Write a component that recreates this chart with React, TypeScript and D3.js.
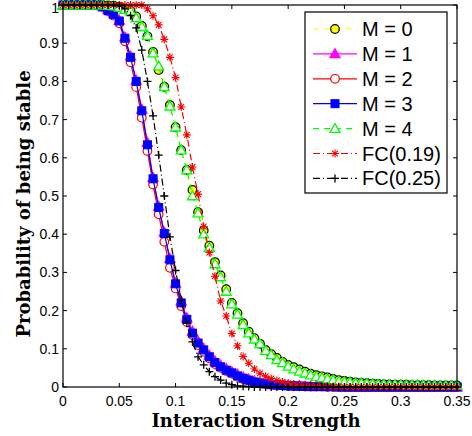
import React from "react";
import * as d3 from "d3";

const xStep = 0.005;

const m0 = [1,1,1,1,1,1,1,1,0.999,0.998,0.995,0.99,0.985,0.97,0.945,0.918,0.877,0.83,0.786,0.738,0.68,0.62,0.568,0.516,0.458,0.41,0.37,0.327,0.292,0.256,0.22,0.193,0.167,0.145,0.128,0.113,0.097,0.086,0.076,0.066,0.058,0.052,0.046,0.04,0.035,0.031,0.028,0.025,0.021,0.018,0.016,0.014,0.012,0.011,0.01,0.009,0.008,0.007,0.007,0.006,0.006,0.006,0.005,0.005,0.005,0.005,0.004,0.004,0.004,0.004,0.004];
const m1 = [1,1,1,1,1,1,1,0.997,0.988,0.978,0.96,0.916,0.866,0.803,0.727,0.64,0.548,0.473,0.405,0.336,0.272,0.225,0.181,0.146,0.12,0.101,0.083,0.068,0.057,0.048,0.04,0.033,0.026,0.021,0.016,0.012,0.01,0.008,0.006,0.005,0.004,0.003,0.003,0.002,0.002,0.002,0.001,0.001,0.001,0.001,0.001,0,0,0,0,0,0,0,0,0,0,0,0,0,0,0,0,0,0,0,0];
const m2 = [1,1,1,1,1,1,1,0.995,0.984,0.972,0.952,0.905,0.85,0.785,0.705,0.618,0.53,0.452,0.38,0.312,0.258,0.212,0.17,0.136,0.11,0.092,0.075,0.06,0.05,0.042,0.035,0.027,0.021,0.017,0.013,0.01,0.008,0.006,0.005,0.004,0.003,0.002,0.002,0.001,0.001,0.001,0.001,0,0,0,0,0,0,0,0,0,0,0,0,0,0,0,0,0,0,0,0,0,0,0,0];
const m3 = [1,1,1,1,1,1,1,0.995,0.985,0.975,0.958,0.913,0.863,0.8,0.723,0.634,0.545,0.47,0.402,0.333,0.27,0.22,0.177,0.141,0.115,0.097,0.079,0.064,0.053,0.044,0.037,0.029,0.023,0.018,0.013,0.01,0.008,0.006,0.005,0.004,0.003,0.003,0.002,0.002,0.001,0.001,0.001,0.001,0.001,0,0,0,0,0,0,0,0,0,0,0,0,0,0,0,0,0,0,0,0,0,0];
const m4 = [1,1,1,1,1,1,1,1,0.999,0.997,0.994,0.988,0.984,0.966,0.943,0.92,0.874,0.84,0.786,0.735,0.68,0.62,0.568,0.5,0.455,0.4,0.365,0.322,0.288,0.25,0.217,0.19,0.163,0.141,0.125,0.113,0.095,0.084,0.071,0.063,0.054,0.047,0.041,0.036,0.031,0.027,0.024,0.021,0.018,0.015,0.013,0.012,0.01,0.01,0.009,0.008,0.007,0.007,0.006,0.006,0.006,0.005,0.005,0.005,0.005,0.004,0.004,0.004,0.004,0.004,0.004];
const fc19 = [1,1,1,1,1,1,1,1,1,1,1,1,1,1,1,0.99,0.972,0.948,0.91,0.863,0.81,0.733,0.66,0.576,0.505,0.42,0.352,0.29,0.225,0.186,0.14,0.108,0.08,0.062,0.047,0.036,0.028,0.022,0.017,0.013,0.01,0.007,0.005,0.004,0.003,0.003,0.002,0.002,0.001,0.001,0,0,0,0,0,0,0,0,0,0,0,0,0,0,0,0,0,0,0,0,0];
const fc25 = [1,1,1,1,1,1,1,1,1,1,0.998,0.99,0.972,0.94,0.882,0.8,0.71,0.607,0.5,0.393,0.305,0.228,0.167,0.118,0.079,0.058,0.04,0.027,0.018,0.01,0.006,0.003,0.002,0.001,0,0,0,0,0,0,0,0,0,0,0,0,0,0,0,0,0,0,0,0,0,0,0,0,0,0,0,0,0,0,0,0,0,0,0,0,0];

const seriesNames = ["M = 0", "M = 1", "M = 2", "M = 3", "M = 4", "FC(0.19)", "FC(0.25)"];
const seriesValues = [m0, m1, m2, m3, m4, fc19, fc25];
const xTicks = [0, 0.05, 0.1, 0.15, 0.2, 0.25, 0.3, 0.35];
const yTicks = [0, 0.1, 0.2, 0.3, 0.4, 0.5, 0.6, 0.7, 0.8, 0.9, 1];

type Style = { color: string; dash: string | null; marker: string; fill: string; edge: string };
const styles: Style[] = [
  { color: "#ffff00", dash: "6,5", marker: "circle", fill: "#ffff00", edge: "#000000" },
  { color: "#ff00ff", dash: null, marker: "triangle", fill: "#ff00ff", edge: "#ff00ff" },
  { color: "#ff0000", dash: null, marker: "circle", fill: "#ffffff", edge: "#ff0000" },
  { color: "#0000ff", dash: null, marker: "square", fill: "#0000ff", edge: "#0000ff" },
  { color: "#00ff00", dash: "6,5", marker: "triangle", fill: "#ffffff", edge: "#00ff00" },
  { color: "#ff0000", dash: "7,3,1,3", marker: "asterisk", fill: "none", edge: "#ff0000" },
  { color: "#000000", dash: "7,3,1,3", marker: "plus", fill: "none", edge: "#000000" },
];

function Marker({ kind, x, y, fill, edge }: { kind: string; x: number; y: number; fill: string; edge: string }) {
  if (kind === "circle") return <circle cx={x} cy={y} r={4.3} fill={fill} stroke={edge} strokeWidth={1.2} />;
  if (kind === "square") return <rect x={x - 4} y={y - 4} width={8} height={8} fill={fill} stroke={edge} strokeWidth={1} />;
  if (kind === "triangle") {
    const s = 5;
    return <path d={`M${x},${y - s}L${x + s},${y + s * 0.75}L${x - s},${y + s * 0.75}Z`} fill={fill} stroke={edge} strokeWidth={1.3} />;
  }
  if (kind === "plus") {
    const s = 4;
    return <path d={`M${x - s},${y}H${x + s}M${x},${y - s}V${y + s}`} stroke={edge} strokeWidth={1.3} fill="none" />;
  }
  const s = 4, d = 2.9;
  return <path d={`M${x - s},${y}H${x + s}M${x},${y - s}V${y + s}M${x - d},${y - d}L${x + d},${y + d}M${x - d},${y + d}L${x + d},${y - d}`} stroke={edge} strokeWidth={1.1} fill="none" />;
}

export default function App() {
  const W = 472, H = 436;
  const left = 63, right = 457, top = 5, bottom = 387;
  const x = d3.scaleLinear().domain([0, 0.35]).range([left, right]);
  const y = d3.scaleLinear().domain([0, 1]).range([bottom, top]);
  const line = d3.line<number>().x((_, i) => x(i * xStep)).y((v) => y(v));
  const numFont = "'Liberation Sans', Arial, sans-serif";
  const titleFont = "'DejaVu Serif', serif";

  const legX = 305, legY = 12, legW = 142, legH = 181, rowH = 24.9;

  return (
    <svg width={W} height={H} style={{ position: "absolute", left: 0, top: 0, background: "#fff" }}>
      <rect x={0} y={0} width={W} height={H} fill="#fff" />
      {xTicks.map((t) => (
        <g key={"xt" + t}>
          <line x1={x(t)} x2={x(t)} y1={bottom} y2={bottom - 4} stroke="#000" />
          <line x1={x(t)} x2={x(t)} y1={top} y2={top + 4} stroke="#000" />
          <text x={x(t)} y={406} fontSize={14} fontFamily={numFont} textAnchor="middle">{String(t)}</text>
        </g>
      ))}
      {yTicks.map((t) => (
        <g key={"yt" + t}>
          <line x1={left} x2={left + 4} y1={y(t)} y2={y(t)} stroke="#000" />
          <line x1={right} x2={right - 4} y1={y(t)} y2={y(t)} stroke="#000" />
          <text x={59} y={t === 1 ? y(t) + 8 : y(t) + 5} fontSize={14} fontFamily={numFont} textAnchor="end">{String(t)}</text>
        </g>
      ))}
      {seriesValues.map((vals, si) => {
        const st = styles[si];
        return (
          <g key={"s" + si}>
            <path d={line(vals) || ""} fill="none" stroke={st.color} strokeWidth={1.2} strokeDasharray={st.dash || undefined} />
            {vals.map((v, i) => (
              <Marker key={i} kind={st.marker} x={x(i * xStep)} y={y(v)} fill={st.fill} edge={st.edge} />
            ))}
          </g>
        );
      })}
      <rect x={left} y={top} width={right - left} height={bottom - top} fill="none" stroke="#000" strokeWidth={1.2} />
      <rect x={legX} y={legY} width={legW} height={legH} fill="#fff" stroke="#000" strokeWidth={1.2} />
      {seriesNames.map((name, si) => {
        const st = styles[si];
        const cy = legY + 17 + si * rowH;
        return (
          <g key={"l" + si}>
            <line x1={313} x2={357} y1={cy} y2={cy} stroke={st.color} strokeWidth={1.2} strokeDasharray={st.dash ? st.dash : undefined} />
            <Marker kind={st.marker} x={335} y={cy} fill={st.fill} edge={st.edge} />
            <text x={362} y={cy + 7} fontSize={20} fontFamily={numFont}>{name}</text>
          </g>
        );
      })}
      <text x={256} y={427} fontSize={18} fontWeight="bold" fontFamily={titleFont} textAnchor="middle">Interaction Strength</text>
      <text transform={`translate(30,204) rotate(-90)`} fontSize={18} fontWeight="bold" fontFamily={titleFont} textAnchor="middle">Probability of being stable</text>
    </svg>
  );
}
